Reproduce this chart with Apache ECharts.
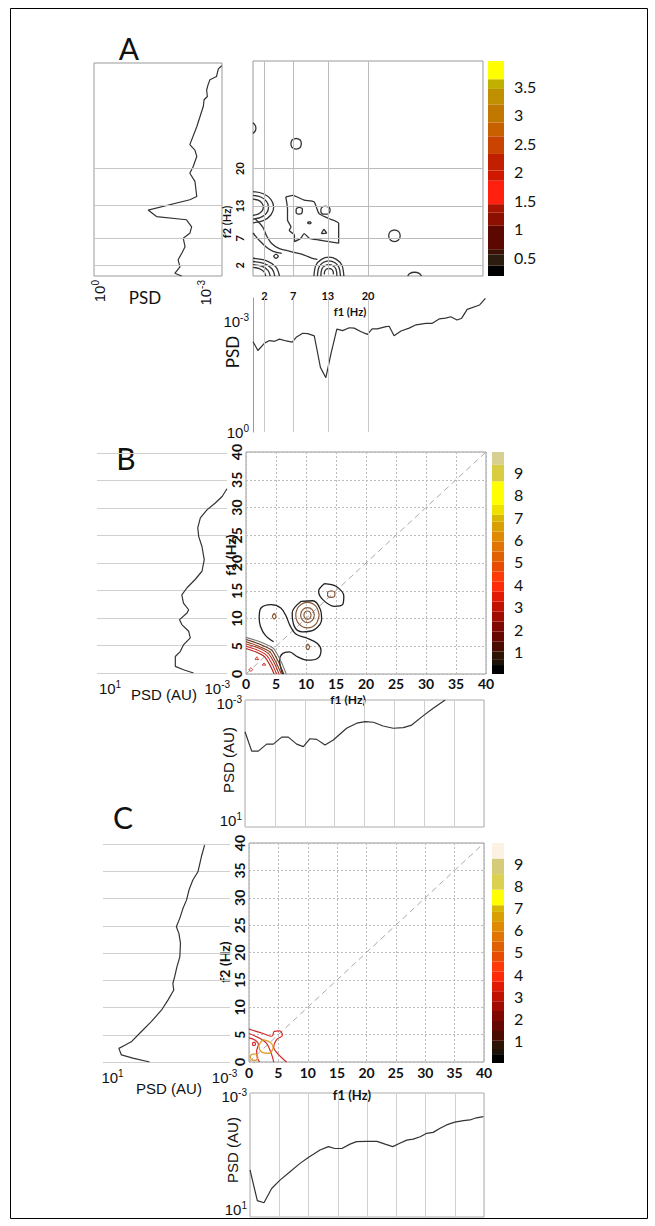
<!DOCTYPE html>
<html>
<head>
<meta charset="utf-8">
<script src="https://cdn.jsdelivr.net/npm/echarts@6/dist/echarts.min.js"></script>
<style>
html, body { margin: 0; padding: 0; background: #fff; }
#chart { width: 655px; height: 1226px; }
</style>
</head>
<body>
<div id="chart"></div>
<script>
// ---------- data (frequencies in Hz, PSD as log-level) ----------
const ticksA = [2, 7, 13, 20];
const ticksBC = [0, 5, 10, 15, 20, 25, 30, 35, 40];
const diag = [[0, 0], [40, 40]];

// panel A, spectra
const psdLeftA = [[3.49,38.9],[3.40,38.3],[3.35,36.9],[3.17,36.3],[3.12,35.4],[3.08,34.4],[3.10,33.2],[3.01,32.6],[2.99,31.4],[2.90,29.5],[2.81,27.6],[2.62,24.3],[2.76,23.3],[2.81,22.1],[2.71,20.2],[2.62,19.0],[2.76,17.5],[2.81,14.7],[2.62,14.1],[1.48,12.2],[1.71,11.0],[2.53,10.4],[2.67,9.1],[2.62,7.9],[2.44,7.0],[2.49,5.4],[2.40,4.2],[2.30,3.0],[2.35,1.7],[2.21,0.5],[2.40,0]];
const psdBottomA = [[0,2.46],[0.85,2.22],[2.0,2.42],[2.86,2.49],[3.72,2.47],[4.59,2.53],[5.74,2.48],[6.78,2.45],[7.47,2.58],[8.6,2.69],[9.47,2.68],[10.6,2.62],[11.66,1.76],[12.6,1.48],[13.5,2.14],[14.5,2.80],[15.5,2.76],[16.66,2.84],[17.5,2.83],[18.7,2.73],[19.8,2.66],[20.6,2.81],[21.5,2.81],[23.0,2.87],[23.55,2.88],[24.4,2.62],[25.6,2.75],[27.0,2.83],[28.2,2.92],[29.9,2.96],[31.0,2.96],[32.2,3.08],[33.3,3.10],[34.2,3.14],[35.3,3.05],[36.1,3.10],[37.05,3.34],[39.2,3.46],[40.2,3.64]];

// panel A, bicoherence contours
const aBlob = [[5.7,14.7],[6.9,15.0],[8.9,14.1],[10.6,13.8],[11.5,11.6],[13.2,10.7],[14.9,9.8],[14.9,6.1],[13.2,6.4],[11.5,6.7],[9.8,7.0],[8.9,7.9],[8.3,7.0],[7.2,6.4],[7.2,7.6],[6.3,8.5],[6.6,9.1],[6.0,10.4],[6.0,12.5],[5.7,14.7]];
const aBlobHole1 = [[8.0,12.8],[8.6,12.4],[8.5,11.7],[8.0,11.5],[7.5,11.8],[7.5,12.4],[8.0,12.8]];
const aBlobHole2 = [[12.3,8.7],[12.8,8.0],[11.9,7.9],[12.3,8.7]];
const aBlobDot = [[9.8,10.1],[10.1,9.9],[9.8,9.7],[9.5,9.9],[9.8,10.1]];
const aOval = [[12.6,13.0],[13.3,12.7],[13.4,12.1],[12.9,11.5],[12.2,11.5],[11.8,12.0],[11.9,12.7],[12.6,13.0]];
const aCircle1 = [[7.5,25.6],[8.2,25.3],[8.4,24.6],[8.2,23.9],[7.5,23.6],[6.8,23.9],[6.6,24.6],[6.8,25.3],[7.5,25.6]];
const aCircle2 = [[24.6,8.6],[25.3,8.3],[25.6,7.5],[25.3,6.7],[24.6,6.4],[23.9,6.7],[23.6,7.5],[23.9,8.3],[24.6,8.6]];
const aEdge1 = [[26.9,0],[27.3,0.5],[28.1,0.7],[28.9,0.5],[29.3,0]];
const aEdge2 = [[0,28.5],[0.4,28.0],[0.5,27.5],[0.4,27.0],[0,26.5]];
const aSide1 = [[0,15.7],[1.8,15.3],[3.1,14.25],[3.6,12.8],[3.1,11.35],[1.8,10.3],[0,9.9]];
const aSide2 = [[0,15.0],[1.35,14.7],[2.35,13.9],[2.7,12.8],[2.35,11.7],[1.35,10.9],[0,10.6]];
const aSide3 = [[0,14.3],[0.9,14.1],[1.55,13.55],[1.8,12.8],[1.55,12.05],[0.9,11.5],[0,11.3]];
const aCorner1 = [[0,3.3],[2.3,2.87],[4.0,1.65],[4.6,0]];
const aCorner2 = [[0,2.7],[1.9,2.35],[3.3,1.35],[3.8,0]];
const aCorner3 = [[0,2.1],[1.5,1.83],[2.6,1.05],[3.0,0]];
const aCorner4 = [[0,1.6],[1.1,1.39],[1.9,0.8],[2.2,0]];
const aRing1 = [[10.6,0],[10.94,2.0],[11.9,3.1],[13.2,3.5],[14.5,3.1],[15.46,2.0],[15.8,0]];
const aRing2 = [[11.2,0],[11.46,1.65],[12.2,2.5],[13.2,2.8],[14.2,2.5],[14.94,1.65],[15.2,0]];
const aRing3 = [[11.8,0],[11.98,1.3],[12.5,1.9],[13.2,2.1],[13.9,1.9],[14.42,1.3],[14.6,0]];
const aRing4 = [[12.4,0.3],[12.5,0.95],[12.8,1.3],[13.2,1.4],[13.6,1.3],[13.9,0.95],[14.0,0.3]];
const aBand1 = [[0.3,10.7],[1.7,9.1],[2.3,7.6],[3.2,6.1],[4.6,5.1],[6.0,4.7],[7.5,4.3],[8.9,3.9],[10.3,3.3],[11.2,3.1]];
const aBand2 = [[0,8.0],[1.2,6.5],[2.4,5.3],[3.5,4.6],[5.0,4.2]];
const aSmall = [[4.0,4.1],[4.4,3.7],[4.0,3.3],[3.6,3.7],[4.0,4.1]];

// panel B, spectra
const psdLeftB = [[4.0,33.5],[3.85,32.1],[3.64,30.9],[3.39,29.7],[3.18,28.2],[3.10,26.4],[3.13,24.8],[3.23,23.0],[3.30,20.6],[3.23,18.5],[3.02,17.0],[2.77,15.5],[2.61,14.2],[2.66,12.7],[2.82,11.5],[2.77,10.9],[2.54,9.7],[2.61,8.8],[2.82,7.6],[2.87,6.4],[2.66,5.1],[2.56,3.9],[2.41,3.0],[2.41,1.2],[2.66,0.6],[2.97,0]];
const psdBottomB = [[0,3.0],[1.12,2.39],[2.23,2.39],[3.63,2.61],[4.74,2.61],[6.14,2.83],[7.25,2.83],[8.65,2.61],[9.76,2.53],[10.88,2.78],[12.0,2.76],[13.39,2.58],[14.78,2.74],[17.0,3.11],[18.7,3.27],[20.1,3.32],[21.5,3.30],[23.1,3.18],[24.8,3.11],[26.5,3.13],[27.9,3.21],[29.8,3.50],[31.5,3.74],[33.5,4.0]];

// panel B, contours
const bLoop1 = [[13.1,16.3],[15.0,15.8],[16.3,14.0],[16.1,12.5],[14.7,12.2],[12.8,13.4],[12.1,14.9],[13.1,16.3]];
const bLoop1In = [[14.2,15.0],[14.8,14.7],[14.8,14.1],[14.2,13.8],[13.6,14.1],[13.6,14.7],[14.2,15.0]];
const bLoop2 = [[9.2,13.1],[11.1,13.2],[12.4,11.6],[12.6,9.8],[11.4,8.0],[9.4,7.6],[8.1,8.5],[7.7,11.0],[9.2,13.1]];
const bRing1 = [[12.2,10.6],[11.63,12.23],[10.25,12.9],[8.87,12.23],[8.3,10.6],[8.87,8.97],[10.25,8.3],[11.63,8.97],[12.2,10.6]];
const bRing2 = [[11.4,10.6],[11.06,11.55],[10.25,11.95],[9.44,11.55],[9.1,10.6],[9.44,9.65],[10.25,9.25],[11.06,9.65],[11.4,10.6]];
const bRing3 = [[10.85,10.6],[10.67,11.13],[10.25,11.35],[9.83,11.13],[9.65,10.6],[9.83,10.07],[10.25,9.85],[10.67,10.07],[10.85,10.6]];
const bOuter = [[4.6,5.8],[3.2,7.0],[2.4,8.6],[2.2,10.2],[2.5,11.9],[4.2,12.5],[5.8,11.9],[6.7,10.4],[7.3,8.8],[8.3,7.2],[10.3,6.4],[11.9,5.5],[12.5,4.3],[11.9,2.8],[10.3,2.5],[8.6,3.1],[7.2,4.0],[6.1,3.7],[5.6,2.5],[6.1,0]];
const bSmall1 = [[4.7,10.9],[5.0,10.4],[4.7,9.9],[4.4,10.4],[4.7,10.9]];
const bSmall2 = [[10.3,5.4],[10.6,4.9],[10.3,4.4],[10.0,4.9],[10.3,5.4]];
const bCorner0 = [[0,6.6],[2.1,5.9],[4.6,4.6],[5.9,2.1],[6.7,0]];
const bCorner1 = [[0,6.2],[2.0,5.5],[4.3,4.3],[5.5,2.0],[6.3,0]];
const bCorner2 = [[0,5.8],[1.9,5.1],[4.0,4.0],[5.1,1.9],[5.9,0]];
const bCorner3 = [[0,5.4],[1.8,4.8],[3.7,3.7],[4.8,1.8],[5.5,0]];
const bCorner4 = [[0,5.0],[1.7,4.4],[3.4,3.4],[4.4,1.7],[5.1,0]];
const bCorner5 = [[0,4.6],[1.6,4.0],[3.1,3.1],[4.0,1.6],[4.7,0]];
const bDot1 = [[0.8,1.1],[1.1,0.8],[0.8,0.5],[0.5,0.8],[0.8,1.1]];
const bDot2 = [[1.8,3.1],[2.1,2.6],[1.5,2.6],[1.8,3.1]];
const bDot3 = [[3.0,2.0],[3.3,1.6],[2.7,1.6],[3.0,2.0]];

// panel C, spectra
const psdLeftC = [[3.20,39.8],[3.10,37.7],[2.99,34.9],[2.83,33.4],[2.71,31.6],[2.63,29.7],[2.52,28.2],[2.42,26.4],[2.31,24.8],[2.39,23.6],[2.44,21.8],[2.42,19.3],[2.33,17.5],[2.26,15.7],[2.20,14.4],[2.23,13.2],[2.05,11.4],[1.84,9.5],[1.52,7.4],[1.21,5.6],[0.89,3.7],[0.63,2.9],[0.50,2.5],[0.58,1.3],[0.94,0.7],[1.47,0]];
const psdBottomC = [[0,1.52],[1.25,0.53],[2.39,0.46],[3.70,0.92],[5.13,1.19],[6.84,1.46],[8.55,1.73],[9.97,1.92],[11.97,2.16],[13.4,2.27],[14.5,2.21],[15.7,2.21],[17.1,2.35],[18.2,2.43],[19.9,2.44],[21.7,2.44],[23.1,2.35],[24.4,2.27],[25.6,2.38],[26.8,2.48],[27.9,2.51],[29.1,2.59],[30.2,2.70],[31.3,2.73],[32.5,2.86],[33.6,2.97],[35.0,3.06],[36.5,3.11],[37.6,3.13],[38.7,3.20],[39.9,3.24]];

// panel C, contours
const cRed1 = [[0,6.0],[1.2,5.6],[2.4,5.2],[3.9,4.7],[4.3,5.6],[5.2,5.7],[5.7,4.9],[4.7,4.1],[4.2,2.7],[5.0,1.4],[6.4,0]];
const cRed2 = [[0,5.2],[1.9,4.3],[3.0,3.4],[3.6,2.1],[4.0,0.9],[4.2,0]];
const cRed3 = [[0,4.4],[1.0,4.0],[1.6,3.2],[1.3,2.0],[1.4,0.8],[1.8,0]];
const cOrange1 = [[2.4,4.1],[3.6,3.6],[4.1,2.7],[3.4,1.6],[2.2,1.8],[1.7,2.9],[2.4,4.1]];
const cOrange2 = [[0.4,1.4],[1.1,1.5],[1.5,0.9],[1.1,0.3],[0.5,0.4],[0.2,0.9],[0.4,1.4]];
const cDot = [[0.7,3.6],[1.0,3.6],[1.1,3.2],[0.8,3.0],[0.6,3.3],[0.7,3.6]];

// colour bars
const cbTicksA = [0.5, 1, 1.5, 2, 2.5, 3, 3.5];
const cbStopsA = [0.17,0.35,0.55,0.64,1.05,1.28,1.43,1.84,2.02,2.31,2.62,2.86,3.18,3.45,3.62,3.94];
const cbColorsA = ['#000000','#2a1d10','#3b1005','#5c0800','#8c1000','#a81400','#ff2010','#d01800','#c02000','#c84400','#c86000','#c07800','#c09000','#c0b000','#ffff00'];
const cbTicksBC = [1, 2, 3, 4, 5, 6, 7, 8, 9];
const cbStopsB = [0,0.40,0.63,1.0,1.44,1.89,2.34,2.78,3.23,3.67,4.12,4.57,5.01,5.46,5.91,6.35,6.80,7.10,7.54,8.59,9.33,9.90];
const cbColorsB = ['#000000','#1e1206','#2e1404','#4a0c02','#660802','#800802','#a00c02','#c01202','#e01a04','#ff2a08','#ff3a08','#e84c04','#e06004','#e07404','#e08a04','#d8a004','#d8b804','#f0e000','#ffff00','#d8cc40','#d8d090'];
const cbStopsC = [0,0.40,0.63,1.0,1.44,1.89,2.34,2.78,3.23,3.67,4.12,4.57,5.01,5.46,5.91,6.35,6.80,7.10,7.80,8.50,9.20,9.90];
const cbColorsC = ['#000000','#1e1206','#2e1404','#4a0c02','#660802','#800802','#a00c02','#c01202','#e01a04','#ff2a08','#ff3a08','#e84c04','#e06004','#e07404','#e08a04','#d8a004','#d8b804','#ffff00','#dcd050','#d4cc78','#fcf2e4'];

// ---------- helpers ----------
const CAL = 'Lato, "Open Sans", sans-serif';
const ARIAL = '"Liberation Sans", Arial, sans-serif';
const supRich = {
  b: { fontSize: 15, fontFamily: ARIAL, color: '#111' },
  s: { fontSize: 10, fontFamily: ARIAL, color: '#111', padding: [0, 0, 8, 0] }
};
function pow(e) { return '{b|10}{s|' + e + '}'; }

function axis(gi, min, max, extra) {
  return Object.assign({
    gridIndex: gi, type: 'value', min: min, max: max,
    axisLine: { show: false }, axisTick: { show: false },
    axisLabel: { show: false }, splitLine: { show: false }
  }, extra || {});
}
function line(gi, data, color, extra) {
  return Object.assign({
    type: 'line', xAxisIndex: gi, yAxisIndex: gi, data: data,
    symbol: 'none', silent: true, animation: false, z: 4,
    lineStyle: { color: color, width: 1.2 }
  }, extra || {});
}
function contour(gi, data, color, width) {
  return line(gi, data, color, { smooth: 0.35, lineStyle: { color: color, width: width || 1.3 } });
}
function marks(key, vals, color) {
  return {
    silent: true, symbol: 'none', animation: false, label: { show: false },
    lineStyle: { color: color, width: 1, type: 'solid' },
    data: vals.map(v => ({ [key]: v }))
  };
}
function colorbar(gi, stops, colors) {
  return colors.map((c, i) => ({
    type: 'bar', xAxisIndex: gi, yAxisIndex: gi, stack: 'cb' + gi,
    data: [i === 0 ? stops[1] : stops[i + 1] - stops[i]],
    barWidth: '100%', itemStyle: { color: c }, silent: true, animation: false
  }));
}
const boldTick = (size, extra) => Object.assign({
  show: true, fontSize: size, fontWeight: 'bold', fontFamily: CAL, color: '#111'
}, extra || {});
const dotGrid = { show: true, interval: 5, lineStyle: { color: '#bbb', type: [2, 2], width: 1 } };
const lightGrid = { show: true, interval: 5, lineStyle: { color: '#d0d0d0', width: 1 } };
const cbLabel = (ticks, margin) => ({
  show: true, customValues: ticks, margin: margin, fontSize: 16, fontFamily: CAL, color: '#111'
});

// ---------- layout ----------
const grids = [
  { left: 94, top: 63, width: 128, height: 213, show: true, borderColor: '#999' },     // 0 A left psd
  { left: 253, top: 61, width: 230, height: 215, show: true, borderColor: '#999' },    // 1 A contour
  { left: 488, top: 61, width: 16, height: 215 },                                      // 2 A colourbar
  { left: 253, top: 298, width: 233, height: 134 },                                    // 3 A bottom psd
  { left: 97, top: 453, width: 130, height: 220 },                                     // 4 B left psd
  { left: 246, top: 452, width: 240, height: 222, show: true, borderColor: '#999' },   // 5 B contour
  { left: 492, top: 452, width: 12, height: 222 },                                     // 6 B colourbar
  { left: 245, top: 700, width: 239, height: 127, show: true, borderColor: '#aaa' },   // 7 B bottom psd
  { left: 103, top: 844, width: 127, height: 218 },                                    // 8 C left psd
  { left: 249, top: 843, width: 235, height: 219, show: true, borderColor: '#999' },   // 9 C contour
  { left: 492, top: 843, width: 12, height: 220 },                                     // 10 C colourbar
  { left: 250, top: 1093, width: 234, height: 124, show: true, borderColor: '#aaa' }   // 11 C bottom psd
];

const cbX = gi => ({ gridIndex: gi, type: 'category', data: ['c'], show: false });

const xAxes = [
  axis(0, 0, 3.5, { axisLabel: { show: true, customValues: [0.15, 3.05], rotate: 90, margin: 4,
    formatter: v => v < 1 ? pow('0') : pow('-3'), rich: supRich } }),
  axis(1, 0, 40, { axisLabel: boldTick(11, { customValues: ticksA, margin: 14 }) }),
  cbX(2),
  axis(3, 0, 40.3),
  axis(4, 0, 4, { axisLabel: { show: true, customValues: [0.4, 3.7], margin: 6,
    formatter: v => v < 1 ? pow('1') : pow('-3'), rich: supRich } }),
  axis(5, 0, 40, { interval: 5, splitLine: dotGrid, axisLabel: boldTick(14, { margin: 2 }) }),
  cbX(6),
  axis(7, 0, 40, { interval: 5, splitLine: lightGrid }),
  axis(8, 0, 4, { axisLabel: { show: true, customValues: [0.3, 3.83], margin: 6,
    formatter: v => v < 1 ? pow('1') : pow('-3'), rich: supRich } }),
  axis(9, 0, 40, { interval: 5, splitLine: dotGrid, axisLabel: boldTick(14, { margin: 3 }) }),
  cbX(10),
  axis(11, 0, 40, { interval: 5, splitLine: lightGrid })
];

const yAxes = [
  axis(0, 0, 39.4),
  axis(1, 0, 40, { axisLabel: boldTick(11, { customValues: ticksA, rotate: 90, margin: 8 }) }),
  axis(2, 0.17, 3.94, { position: 'right', axisLabel: cbLabel(cbTicksA, 10) }),
  axis(3, 0, 3.65, { axisLine: { show: true, lineStyle: { color: '#999' } },
    axisLabel: { show: true, customValues: [0, 3], margin: 4,
      formatter: v => v < 1 ? pow('0') : pow('-3'), rich: supRich } }),
  axis(4, 0, 40, { interval: 5, splitLine: lightGrid }),
  axis(5, 0, 40, { interval: 5, splitLine: dotGrid, axisLabel: boldTick(14, { rotate: 90, margin: 3 }) }),
  axis(6, 0, 9.9, { position: 'right', axisLabel: cbLabel(cbTicksBC, 10) }),
  axis(7, 0, 4, { axisLabel: { show: true, customValues: [0.2, 3.9], margin: 3,
    formatter: v => v < 1 ? pow('1') : pow('-3'), rich: supRich } }),
  axis(8, 0, 40, { interval: 5, splitLine: lightGrid }),
  axis(9, 0, 40, { interval: 5, splitLine: dotGrid, axisLabel: boldTick(14, { rotate: 90, margin: 3 }) }),
  axis(10, 0, 9.9, { position: 'right', axisLabel: cbLabel(cbTicksBC, 10) }),
  axis(11, 0, 4, { axisLabel: { show: true, customValues: [0.23, 3.9], margin: 3,
    formatter: v => v < 1 ? pow('1') : pow('-3'), rich: supRich } })
];

// ---------- series ----------
const PSD = '#333';
const GRAY = '#333';
const BLACK = '#222';
const BROWN = '#8a5a3a';
const series = [];

// A
series.push(line(0, psdLeftA, PSD, { markLine: marks('yAxis', ticksA, '#c8c8c8') }));
const blob = contour(1, aBlob, GRAY);
blob.smooth = 0.2;
blob.markLine = marks('xAxis', ticksA, '#bbb');
series.push(blob);
series.push(line(1, [[0, 0]], 'transparent', { markLine: marks('yAxis', ticksA, '#bbb') }));
[aBlobHole1, aBlobHole2, aBlobDot, aOval, aCircle1, aCircle2, aEdge1, aEdge2,
 aSide1, aSide2, aSide3, aCorner1, aCorner2, aCorner3, aCorner4,
 aRing1, aRing2, aRing3, aRing4, aBand1, aBand2, aSmall].forEach(d => series.push(contour(1, d, GRAY)));
series.push(...colorbar(2, cbStopsA, cbColorsA));
series.push(line(3, psdBottomA, PSD, { markLine: marks('xAxis', ticksA, '#c8c8c8') }));

// B
series.push(line(4, psdLeftB, PSD));
series.push(line(5, diag, '#aaa', { lineStyle: { color: '#aaa', width: 1, type: [6, 4] }, z: 3 }));
[bLoop1, bLoop2, bOuter].forEach(d => series.push(contour(5, d, BLACK, 1.3)));
[bLoop1In, bRing1, bRing2, bRing3, bSmall1, bSmall2].forEach(d => series.push(contour(5, d, BROWN, 1.2)));
const bCornerCol = ['#777', '#5a2a12', '#8b3a1a', '#a83020', '#c83028', '#b02018'];
[bCorner0, bCorner1, bCorner2, bCorner3, bCorner4, bCorner5].forEach((d, i) => {
  const s = contour(5, d, bCornerCol[i], 1.1); s.smooth = 0.15; series.push(s);
});
[bDot1, bDot2, bDot3].forEach(d => series.push(contour(5, d, '#d03028', 1)));
series.push(...colorbar(6, cbStopsB, cbColorsB));
series.push(line(7, psdBottomB, PSD));

// C
series.push(line(8, psdLeftC, PSD));
series.push(line(9, diag, '#aaa', { lineStyle: { color: '#aaa', width: 1, type: [6, 4] }, z: 3 }));
[cRed1, cRed2, cRed3, cDot].forEach(d => series.push(contour(9, d, '#d42a2a', 1.2)));
[cOrange1, cOrange2].forEach(d => series.push(contour(9, d, '#e0a030', 1.3)));
series.push(...colorbar(10, cbStopsC, cbColorsC));
series.push(line(11, psdBottomC, PSD));

// ---------- free text ----------
function txt(x, y, text, size, opts) {
  return {
    type: 'text', x: x, y: y, rotation: (opts && opts.rot) || 0, silent: true,
    style: Object.assign({
      text: text, fontSize: size, fontFamily: CAL, fill: '#111',
      align: 'center', verticalAlign: 'middle'
    }, (opts && opts.style) || {})
  };
}
const R = Math.PI / 2;
const graphics = [
  { type: 'rect', shape: { x: 10.5, y: 8.5, width: 637, height: 1210 }, style: { fill: 'none', stroke: '#000', lineWidth: 1 }, silent: true },
  txt(129, 48, 'A', 30),
  txt(126, 458, 'B', 30),
  txt(123, 817, 'C', 30),
  // panel A names
  txt(145, 297, 'PSD', 17),
  txt(232, 352, 'PSD', 17, { rot: R }),
  txt(226, 222, 'f2 (Hz)', 11, { rot: R, style: { fontWeight: 'bold' } }),
  txt(350, 311, 'f1 (Hz)', 11, { style: { fontWeight: 'bold' } }),
  // panel B names
  txt(164, 694, 'PSD (AU)', 15, { style: { fontFamily: ARIAL } }),
  txt(228, 760, 'PSD (AU)', 15, { rot: R, style: { fontFamily: ARIAL } }),
  txt(230, 555, 'f1 (Hz)', 14, { rot: R, style: { fontWeight: 'bold' } }),
  txt(348, 699, 'f1 (Hz)', 12, { style: { fontWeight: 'bold' } }),
  // panel C names
  txt(169, 1088, 'PSD (AU)', 15, { style: { fontFamily: ARIAL } }),
  txt(232, 1150, 'PSD (AU)', 15, { rot: R, style: { fontFamily: ARIAL } }),
  txt(224, 962, 'f2 (Hz)', 14, { rot: R, style: { fontWeight: 'bold' } }),
  txt(352, 1095, 'f1 (Hz)', 13, { style: { fontWeight: 'bold' } })
];

const chart = echarts.init(document.getElementById('chart'), null, { renderer: 'svg' });
chart.setOption({
  animation: false,
  backgroundColor: '#fff',
  grid: grids,
  xAxis: xAxes,
  yAxis: yAxes,
  series: series,
  graphic: graphics
});
</script>
</body>
</html>
